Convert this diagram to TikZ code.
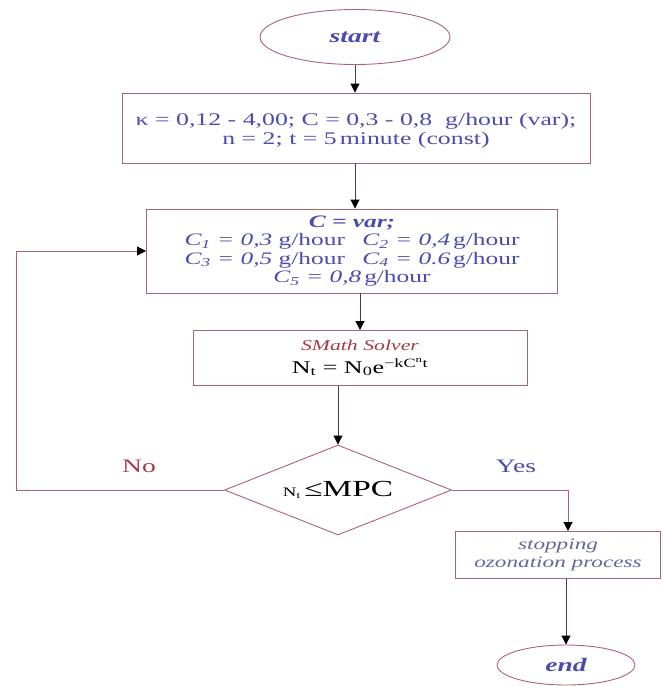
\documentclass[tikz,border=0pt]{standalone}
\usepackage{fontspec}
\setmainfont{Liberation Serif}[FakeStretch=1.45]
\usetikzlibrary{shapes.geometric,arrows.meta}
\definecolor{framec}{RGB}{170,100,110}
\definecolor{textc}{RGB}{75,75,175}
\definecolor{greyc}{RGB}{100,100,160}
\definecolor{redc}{RGB}{170,55,70}
\definecolor{linec}{RGB}{90,55,60}
\begin{document}
\begin{tikzpicture}[x=1pt,y=-1pt,
    block/.style={rectangle,draw=framec,line width=0.9pt,inner sep=0pt,align=center},
    term/.style={ellipse,draw=framec,line width=0.9pt,inner sep=0pt,text=textc,
        font=\fontsize{19}{22}\selectfont\bfseries\itshape},
    flow/.style={draw=linec,line width=0.9pt,-{Triangle[length=9pt,width=9pt,color=black]}}]
\useasboundingbox (0,0) rectangle (662,686);
% terminals
\node [term,minimum width=190pt,minimum height=55pt] (start) at (355,37) {start};
\node [term,minimum width=138pt,minimum height=40pt] (stop) at (566,665) {end};
% blocks
\node [block,minimum width=468pt,minimum height=70pt,text=textc,
    font=\fontsize{17.8}{19}\selectfont] (input) at (356,128)
    {\rule{0pt}{18pt}κ = 0,12 - 4,00; C = 0,3 - 0,8 \ g/hour (var);\\ n = 2; t = 5\,minute (const)};
\node [block,minimum width=411pt,minimum height=84pt,text=textc,
    font=\fontsize{17.5}{18.6}\selectfont] (cvar) at (352,251)
    {\textbf{\textit{C = var;}}\\
     \textit{C\textsubscript{1} = 0,3} g/hour\quad \textit{C\textsubscript{2} = 0,4}\,g/hour\\
     \textit{C\textsubscript{3} = 0,5} g/hour\quad \textit{C\textsubscript{4} = 0.6}\,g/hour\\
     \textit{C\textsubscript{5} = 0,8}\,g/hour};
\node [block,minimum width=334pt,minimum height=55pt,
    font=\fontsize{15}{23}\selectfont] (solver) at (360,358)
    {\textcolor{redc}{\textit{SMath Solver}}\\
     {\fontsize{18}{19}\selectfont N\textsubscript{t} = N\textsubscript{0}e\textsuperscript{−kC\textsuperscript{n}t}}};
\node [diamond,draw=framec,line width=0.9pt,inner sep=0pt,aspect=2.52,
    minimum width=227pt,minimum height=90pt] (check) at (338,490)
    {{\fontsize{13}{14}\selectfont N\textsubscript{t}} {\fontsize{23}{24}\selectfont ≤MPC}};
\node [block,minimum width=205pt,minimum height=47pt,text=greyc,
    font=\fontsize{16}{18}\selectfont\itshape] (halt) at (558,555)
    {stopping\\ozonation process};
% labels
\node [text=redc,font=\fontsize{19}{22}\selectfont] (no) at (139,466) {No};
\node [text=textc,font=\fontsize{19}{22}\selectfont] (yes) at (516,466) {Yes};
% connectors
\coordinate (back) at (16,490);
\coordinate (down) at (568,490);
\draw [flow] (start.south) -- (start.south |- input.north);
\draw [flow] (input.south -| start) -- (cvar.north -| start);
\draw [flow] (cvar.south -| solver) -- (solver.north);
\draw [flow] (solver.south -| check) -- (check.north);
\draw [flow,draw=framec] (check.west) -- (back) |- (cvar.west);
\draw [flow,draw=framec] (check.east) -- (down) -- (down |- halt.north);
\draw [flow] (halt.south -| stop) -- (stop.north);
\end{tikzpicture}
\end{document}
